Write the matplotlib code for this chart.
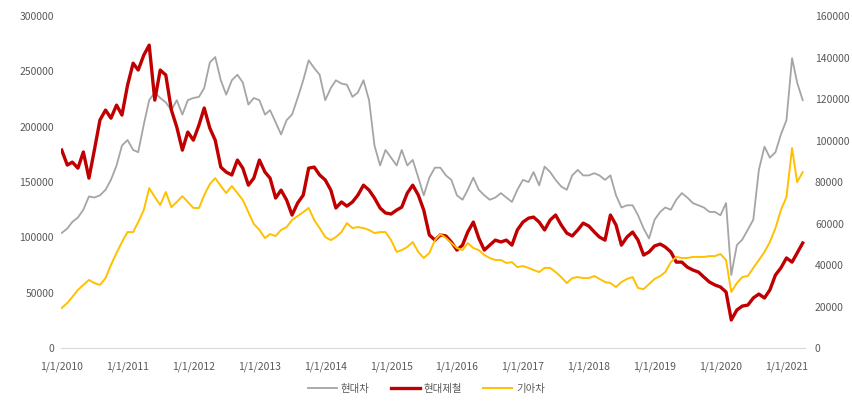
import matplotlib

matplotlib.use("Agg")
import matplotlib.pyplot as plt
import pandas as pd

plt.rcParams["font.family"] = ["Noto Sans CJK KR", "DejaVu Sans"]

# month-start closing levels, Jan 2010 .. Apr 2021
start_month = "2010-01-01"

hyundai_motor = [
    104000, 108000, 114000, 118000, 125000, 137000, 136000, 138000, 143000, 152000, 165000, 183000,
    188000, 179000, 177000, 202000, 224000, 231000, 226000, 222000, 215000, 224000, 211000, 224000,
    226000, 227000, 235000, 258000, 263000, 242000, 229000, 242000, 247000, 240000, 220000, 226000,
    224000, 211000, 215000, 204000, 193000, 206000, 211000, 226000, 242000, 260000, 253000, 247000,
    224000, 235000, 242000, 239000, 238000, 227000, 231000, 242000, 224000, 183000, 165000, 179000,
    172000, 165000, 179000, 165000, 170000, 154000, 138000, 154000, 163000, 163000, 156000, 152000,
    138000, 134000, 143000, 154000, 143000, 138000, 134000, 136000, 140000, 136000, 132000, 143000,
    152000, 150000, 159000, 147000, 164000, 159000, 152000, 146000, 143000, 156000, 161000, 156000,
    156000, 158000, 156000, 152000, 156000, 138000, 127000, 129000, 129000, 120000, 108000, 99000,
    116000, 123000, 127000, 125000, 134000, 140000, 136000, 131000, 129000, 127000, 123000, 123000,
    120000, 131000, 66000, 93000, 98000, 107000, 116000, 161000, 182000, 172000, 177000, 193000,
    206000, 262000, 240000, 224000,
]

hyundai_steel = [
    95400, 88200, 89600, 86700, 94500, 81900, 95400, 109900, 114700, 110800, 117100, 112300,
    126700, 137300, 134000, 141200, 146000, 119500, 134000, 131600, 114700, 106500, 95400, 104100,
    100200, 107500, 115700, 106000, 100200, 87200, 84800, 83400, 90600, 86700, 78500, 81900,
    90600, 84800, 81900, 72300, 76100, 71300, 64100, 69900, 73700, 86700, 87200, 83400,
    81000, 76100, 67500, 70400, 68400, 70400, 73700, 78500, 76100, 72300, 67500, 65100,
    64600, 66500, 67900, 74700, 78500, 73700, 66500, 54500, 52000, 54500, 54000, 51100,
    47200, 49600, 55900, 60700, 53000, 47200, 49600, 52000, 51100, 52000, 49600, 56900,
    60700, 62600, 63100, 60700, 56900, 61700, 64100, 59300, 55400, 54000, 56900, 60200,
    58800, 55900, 53500, 52000, 64100, 59300, 49600, 53500, 55900, 52000, 44800, 46300,
    49200, 50100, 48700, 46300, 41400, 41400, 39000, 37600, 36600, 34200, 31800, 30400,
    29400, 27000, 13500, 18300, 20200, 20700, 24100, 26000, 24100, 28000, 35200, 38600,
    43400, 41400, 45800, 50600,
]

kia_motors = [
    19300, 21700, 24600, 28000, 30400, 32800, 31300, 30400, 33700, 40000, 45800, 51100,
    55900, 55900, 60700, 66500, 77100, 72800, 68900, 75200, 67900, 70400, 73200, 70400,
    67500, 67500, 73700, 79000, 81900, 78100, 74700, 78100, 74700, 71300, 65500, 59800,
    56900, 53000, 54900, 54000, 56900, 58300, 61700, 63600, 65500, 67500, 61700, 57800,
    53500, 52000, 53500, 55900, 60200, 57800, 58300, 57800, 56900, 55400, 55900, 55900,
    52000, 46300, 47200, 48700, 51100, 46300, 43400, 45800, 52000, 54900, 53000, 50600,
    48200, 47200, 50600, 48200, 47200, 44800, 43400, 42400, 42400, 41000, 41400, 39000,
    39500, 38600, 37600, 36600, 38600, 38600, 36600, 34200, 31300, 33700, 34200, 33700,
    33700, 34700, 33300, 31800, 31300, 29400, 31800, 33300, 34200, 28900, 28400, 30800,
    33300, 34700, 36600, 41400, 43900, 43400, 43400, 43900, 43900, 43900, 44300, 44300,
    45300, 42400, 27000, 31300, 34200, 34700, 38600, 42400, 46300, 51100, 57800, 66500,
    72800, 96400, 80000, 84800,
]

labels = ["현대차", "현대제철", "기아차"]
left_ticks = list(range(0, 300001, 50000))
right_ticks = list(range(0, 160001, 20000))
year_ticks = list(range(2010, 2022))

TEXT = "#595959"

dates = pd.date_range(start_month, periods=len(hyundai_motor), freq="MS")

fig = plt.figure(figsize=(8.53, 4.03), dpi=100)
ax = fig.add_axes([0.0715, 0.1365, 0.8725, 0.8235])
ax2 = ax.twinx()

l1, = ax.plot(dates, hyundai_motor, color="#A5A5A5", lw=1.3, label=labels[0])
l2, = ax2.plot(dates, hyundai_steel, color="#C00000", lw=2.4, label=labels[1])
l3, = ax2.plot(dates, kia_motors, color="#FFC000", lw=1.4, label=labels[2])

ax.set_ylim(0, 300000)
ax2.set_ylim(0, 160000)
ax.set_yticks(left_ticks)
ax2.set_yticks(right_ticks)
ax.set_xlim(pd.Timestamp("2009-12-28"), pd.Timestamp("2021-04-15"))

xt = [pd.Timestamp(f"{y}-01-01") for y in year_ticks]
ax.set_xticks(xt)
ax.set_xticklabels([f"{d.month}/{d.day}/{d.year}" for d in xt])

for a in (ax, ax2):
    for s in a.spines.values():
        s.set_visible(False)
    a.tick_params(length=0, labelsize=7.5, labelcolor=TEXT)
ax.spines["bottom"].set_visible(True)
ax.spines["bottom"].set_color("#D9D9D9")
ax.tick_params(axis="y", pad=5)
ax.tick_params(axis="x", pad=10)
ax2.tick_params(axis="y", pad=7)

fig.legend(handles=[l1, l2, l3], loc="lower center", ncol=3, frameon=False,
           bbox_to_anchor=(0.5, 0.0), fontsize=7.5, labelcolor=TEXT,
           handlelength=2.8, columnspacing=2.0, handletextpad=0.4)

fig.savefig("out.png", dpi=100)
